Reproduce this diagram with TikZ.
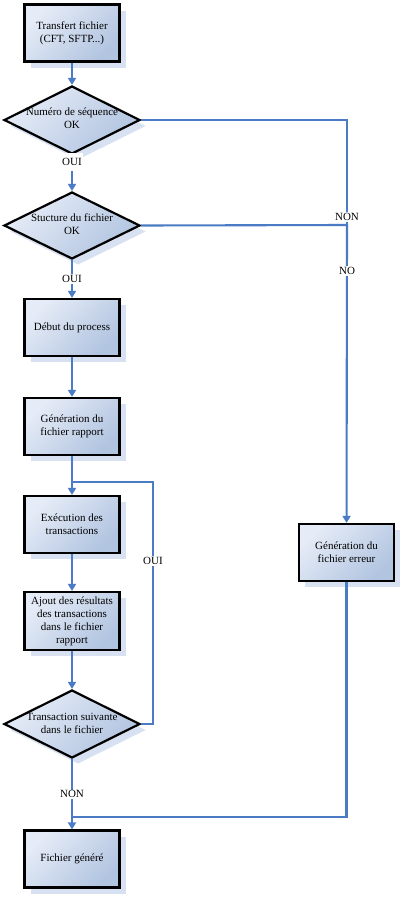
\documentclass[tikz,border=0pt]{standalone}
\usepackage{fontspec}
\setmainfont{Liberation Serif}
\usetikzlibrary{shapes.geometric,shadows,arrows.meta}
\definecolor{lightc}{HTML}{E6ECF7}
\definecolor{darkc}{HTML}{B1C4E0}
\definecolor{shadowc}{HTML}{D8E1F1}
\definecolor{linec}{HTML}{4A7BC4}
\tikzset{
  boxc/.style={draw=black, line width=2.2pt, top color=lightc, bottom color=darkc, shading angle=45,
    drop shadow={shadow xshift=6pt, shadow yshift=-6pt, fill=shadowc, opacity=1},
    minimum width=95pt, minimum height=57pt, inner sep=1pt, align=center,
    font=\fontsize{11}{13}\selectfont},
  decis/.style={diamond, draw=black, line width=2.2pt, top color=lightc, bottom color=darkc, shading angle=45,
    drop shadow={shadow xshift=6pt, shadow yshift=-6pt, fill=shadowc, opacity=1},
    minimum width=136pt, minimum height=68pt, inner sep=0pt},
  dtext/.style={align=center, font=\fontsize{11}{13}\selectfont, inner sep=0pt},
  conn/.style={draw=linec, line width=2.1pt},
  arr/.style={conn, -{Triangle[width=8pt,length=7pt]}},
  lbl/.style={fill=white, inner sep=1pt, font=\fontsize{11}{13}\selectfont},
}
\begin{document}
\begin{tikzpicture}[x=1pt,y=-1pt]
\useasboundingbox (0,0) rectangle (405,900);
\node[boxc] (b1) at (72,33) {Transfert fichier\\(CFT, SFTP...)};
\node[decis] (d1) at (72,120) {};
\node[dtext] (t1) at (72,118) {Numéro de séquence\\OK};
\node[decis, minimum height=67pt] (d2) at (72,225.5) {};
\node[dtext] (t2) at (72,224) {Stucture du fichier\\OK};
\node[boxc] (b3) at (72,327.5) {Début du process};
\node[boxc] (b4) at (72,426.5) {Génération du\\fichier rapport};
\node[boxc] (b5) at (72,524.5) {Exécution des\\transactions};
\node[boxc, minimum height=58pt] (b6) at (72,621) {Ajout des résultats\\des transactions\\dans le fichier\\rapport};
\node[decis] (d3) at (72,724) {};
\node[dtext] (t3) at (72,723) {Transaction suivante\\dans le fichier};
\node[boxc] (b7) at (72,859) {Fichier généré};
\node[boxc] (b8) at (346.5,552.5) {Génération du\\fichier erreur};

\coordinate (r1) at (347,120);
\coordinate (r2) at (347,225);
\coordinate (loopr) at (153,724);
\coordinate (loopt) at (153,482);
\coordinate (loopj) at (72,482);
\coordinate (j2) at (72,817);

\draw[arr] (b1) -- (d1);
\draw[arr] (d1) -- node[lbl, pos=0.2, minimum height=18pt] {OUI} (d2);
\draw[arr] (d2) -- node[lbl, pos=0.5] {OUI} (b3);
\draw[arr] (b3) -- (b4);
\draw[arr] (b4) -- (b5);
\draw[arr] (b5) -- (b6);
\draw[arr] (b6) -- (d3);
\draw[arr] (d3) -- node[lbl, pos=0.5] {NON} (b7);
\draw[conn] (d3.east) -- (loopr) -- node[lbl, pos=0.674] {OUI} (loopt) -- (loopj);
\draw[conn] (d1.east) -- (r1) -- (r2);
\draw[arr] (d2.east) -- (r2) -- (b8);
\node[lbl] (non1) at (347,217) {NON};
\node[lbl] (no1) at (347,271) {NO};
\draw[conn] (b8.south) -- (b8.south |- j2) -- (j2);
\end{tikzpicture}
\end{document}
